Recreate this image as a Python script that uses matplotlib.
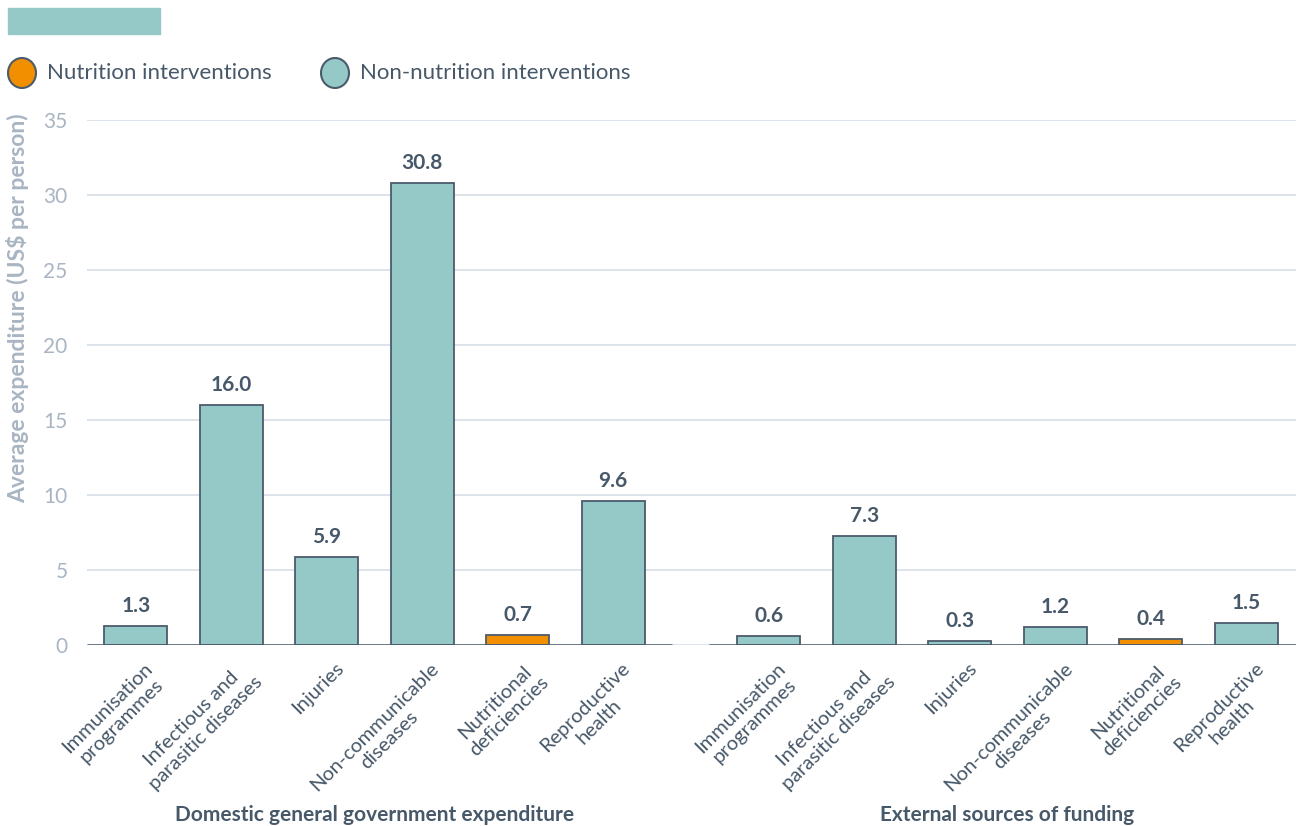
import numpy as np
import matplotlib
matplotlib.use("Agg")
import matplotlib.pyplot as plt
from matplotlib.patches import Rectangle, Ellipse
from matplotlib.transforms import ScaledTranslation

plt.rcParams["font.family"] = ["Lato", "DejaVu Sans"]

categories = ["Immunisation\nprogrammes", "Infectious and\nparasitic diseases", "Injuries",
              "Non-communicable\ndiseases", "Nutritional\ndeficiencies", "Reproductive\nhealth"]
domestic = [1.3, 16.0, 5.9, 30.8, 0.7, 9.6]
external = [0.6, 7.3, 0.3, 1.2, 0.4, 1.5]
nutrition = [False, False, False, False, True, False]
groups = ["Domestic general government expenditure", "External sources of funding"]

TEAL = "#94c9c8"
ORANGE = "#f28f00"
EDGE = "#4b5b6b"
DARK = "#475869"
GREY = "#a9b5c2"
GRID = "#d6dee8"

fig = plt.figure(figsize=(12.98, 8.26), dpi=100)
ax = fig.add_axes([87 / 1298, 1 - 645 / 826, (1296 - 87) / 1298, (645 - 120) / 826])

x_dom = np.arange(6)
x_ext = np.arange(6) + 6.63
colors = [ORANGE if n else TEAL for n in nutrition]

for xs, vals in [(x_dom, domestic), (x_ext, external)]:
    bars = ax.bar(xs, vals, width=0.66, color=colors, edgecolor=EDGE, linewidth=1.3, zorder=3)
    for b, v in zip(bars, vals):
        ax.annotate(f"{v:.1f}", (b.get_x() + b.get_width() / 2, v), xytext=(0, 7),
                    textcoords="offset points", ha="center", va="bottom",
                    fontsize=15, fontweight="bold", color=DARK)

ax.set_xlim(-0.51, 12.15)
ax.set_ylim(0, 35)
ax.set_yticks(range(0, 36, 5))
ax.yaxis.grid(True, color=GRID, linewidth=1.2, zorder=0)
ax.set_axisbelow(True)
for s in ax.spines.values():
    s.set_visible(False)
ax.tick_params(axis="y", length=0, labelsize=15, labelcolor=GREY, pad=14)
ax.tick_params(axis="x", length=0, pad=6)

# broken baseline, one segment per group
ax.hlines(0, -0.51, 5.62, color=EDGE, linewidth=1.8, zorder=4)
ax.hlines(0, 6.0, 12.15, color=EDGE, linewidth=1.8, zorder=4)

ax.set_xticks(np.concatenate([x_dom, x_ext]))
ax.set_xticklabels(categories * 2, rotation=45, ha="right", va="top",
                   rotation_mode="anchor", multialignment="center",
                   fontsize=14.5, color=DARK)
for lbl in ax.get_xticklabels():
    lbl.set_transform(lbl.get_transform() + ScaledTranslation(0.08, -0.06, fig.dpi_scale_trans))

fig.text(375 / 1298, 1 - 815 / 826, groups[0], ha="center", va="center",
         fontsize=15, fontweight="bold", color=DARK)
fig.text(1007 / 1298, 1 - 815 / 826, groups[1], ha="center", va="center",
         fontsize=15, fontweight="bold", color=DARK)

fig.text(18 / 1298, 1 - 308 / 826, "Average expenditure (US$ per person)", rotation=90,
         ha="center", va="center", fontsize=16.5, fontweight="bold", color=GREY)

# header strip
fig.patches.append(Rectangle((8 / 1298, 1 - 34 / 826), 152 / 1298, 26 / 826,
                             transform=fig.transFigure, color=TEAL))

# legend
for cx, tx, col, lab in [(22, 47, ORANGE, "Nutrition interventions"),
                         (335, 360, TEAL, "Non-nutrition interventions")]:
    fig.patches.append(Ellipse((cx / 1298, 1 - 73 / 826), 28 / 1298, 30 / 826,
                               transform=fig.transFigure, facecolor=col,
                               edgecolor=EDGE, linewidth=1.5))
    fig.text(tx / 1298, 1 - 73 / 826, lab, ha="left", va="center", fontsize=16, color=DARK)

fig.savefig("out.png", dpi=100)
